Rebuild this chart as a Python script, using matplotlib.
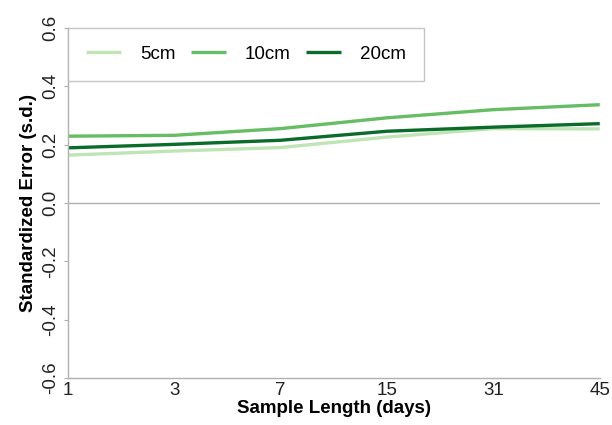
import matplotlib
matplotlib.use("Agg")
import matplotlib.pyplot as plt
import numpy as np

plt.rcParams['font.family'] = ['Liberation Sans', 'DejaVu Sans']

days = ["1", "3", "7", "15", "31", "45"]
se_5cm = [0.164, 0.178, 0.190, 0.226, 0.255, 0.254]
se_10cm = [0.229, 0.232, 0.255, 0.292, 0.320, 0.337]
se_20cm = [0.189, 0.201, 0.215, 0.246, 0.260, 0.272]

series = [("5cm", se_5cm, "#bfe5b5"),
          ("10cm", se_10cm, "#66bd63"),
          ("20cm", se_20cm, "#0b6b2b")]

fig = plt.figure(figsize=(6.12, 4.25), dpi=100)
ax = fig.add_axes([0.111, 0.111, 0.869, 0.823])

x = np.arange(len(days))
for name, vals, col in series:
    ax.plot(x, vals, color=col, lw=2.4, label=name, solid_capstyle='butt')

ax.axhline(0, color="#b0b0b0", lw=1.0, zorder=0)
ax.set_xlim(0, len(days) - 1)
ax.set_ylim(-0.6, 0.6)
ax.set_xticks(x)
ax.set_xticklabels(days)
ax.set_yticks([-0.6, -0.4, -0.2, 0.0, 0.2, 0.4, 0.6])
ax.set_yticklabels(["-0.6", "-0.4", "-0.2", "0.0", "0.2", "0.4", "0.6"],
                   rotation=90, va="center")
ax.tick_params(axis="both", labelsize=13.5, length=0, pad=3, colors="#222222")
ax.tick_params(axis="y", length=3, color="#b0b0b0", direction="out")

for s in ["top", "right"]:
    ax.spines[s].set_visible(False)
for s in ["left", "bottom"]:
    ax.spines[s].set_color("#b0b0b0")
    ax.spines[s].set_linewidth(1.0)

ax.set_xlabel("Sample Length (days)", fontsize=13.5, fontweight="bold", labelpad=1)
ax.set_ylabel("Standardized Error (s.d.)", fontsize=13.5, fontweight="bold", labelpad=4)

leg = ax.legend(loc="upper left", ncol=3, frameon=True, fancybox=False,
                fontsize=13.5, borderaxespad=0.0, handlelength=1.9,
                columnspacing=0.8, borderpad=0.95, handletextpad=1.0)
leg.get_frame().set_edgecolor("#b8b8b8")
leg.get_frame().set_linewidth(1.0)

fig.savefig("out.png", dpi=100)
